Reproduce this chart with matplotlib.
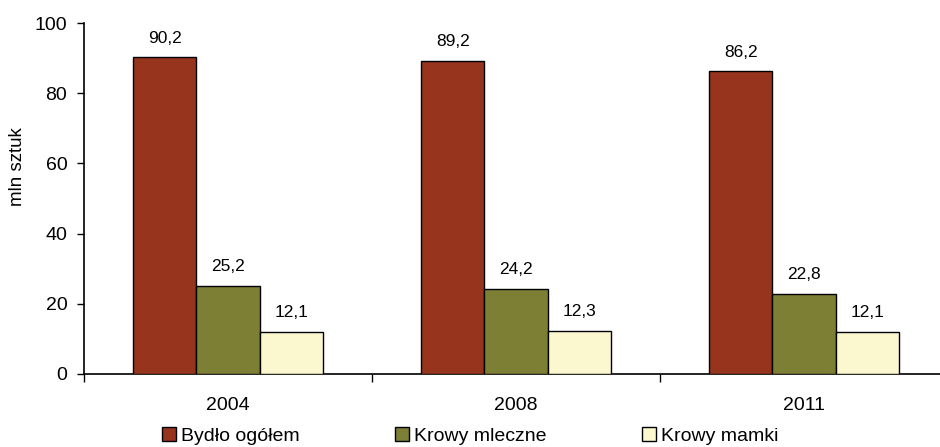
import matplotlib
matplotlib.use("Agg")
import matplotlib.pyplot as plt
import numpy as np
from matplotlib.patches import Patch

plt.rcParams['font.family'] = ['Liberation Sans', 'DejaVu Sans']

years = ["2004", "2008", "2011"]
series_names = ["Bydło ogółem", "Krowy mleczne", "Krowy mamki"]
bydlo = [90.2, 89.2, 86.2]
mleczne = [25.2, 24.2, 22.8]
mamki = [12.1, 12.3, 12.1]
colors = ["#96341E", "#7D8034", "#FBF7CE"]

W, H = 940, 447
fig = plt.figure(figsize=(W / 100, H / 100), dpi=100)
ax = fig.add_axes([84 / W, 1 - 374 / H, (940 - 84) / W, (374 - 23) / H])

x = np.arange(len(years))
bw = 0.219
data = [bydlo, mleczne, mamki]
for i, (vals, col) in enumerate(zip(data, colors)):
    pos = x + (i - 1) * bw
    ax.bar(pos, vals, width=bw, color=col, edgecolor="black", linewidth=1.0, zorder=3)
    for p, v in zip(pos, vals):
        ax.text(p, v + 3.3, f"{v:.1f}".replace(".", ","), ha="center", va="bottom",
                fontsize=12.5, color="black")

ax.set_ylim(0, 100)
ax.set_xlim(-0.5, -0.5 + (940 - 84) / 288)
ax.set_yticks(range(0, 101, 20))
ax.tick_params(axis="y", labelsize=14, direction="out", length=5, width=1, pad=7)

ax.set_xticks(x)
ax.set_xticklabels(years)
ax.tick_params(axis="x", which="major", length=0, labelsize=14, pad=16.5)
ax.set_xticks([-0.5, 0.5, 1.5], minor=True)
ax.tick_params(axis="x", which="minor", length=6, width=1, direction="out")

for s in ["top", "right"]:
    ax.spines[s].set_visible(False)
for s in ["left", "bottom"]:
    ax.spines[s].set_linewidth(1.2)

ax.set_ylabel("mln sztuk", fontsize=13.5)
ax.yaxis.set_label_coords(-(84 - 18) / (940 - 84), (374 - 167) / 351)
ax.yaxis.label.set_va("center")

handles = [Patch(facecolor=c, edgecolor="black", linewidth=1.0) for c in colors]
fig.legend(handles, series_names, loc="center", bbox_to_anchor=(0.5, 1 - 436 / H),
           ncol=3, frameon=False, fontsize=14, handlelength=0.72, handleheight=0.72,
           handletextpad=0.26, columnspacing=4.9, borderaxespad=0)

fig.savefig("out.png", dpi=100)
